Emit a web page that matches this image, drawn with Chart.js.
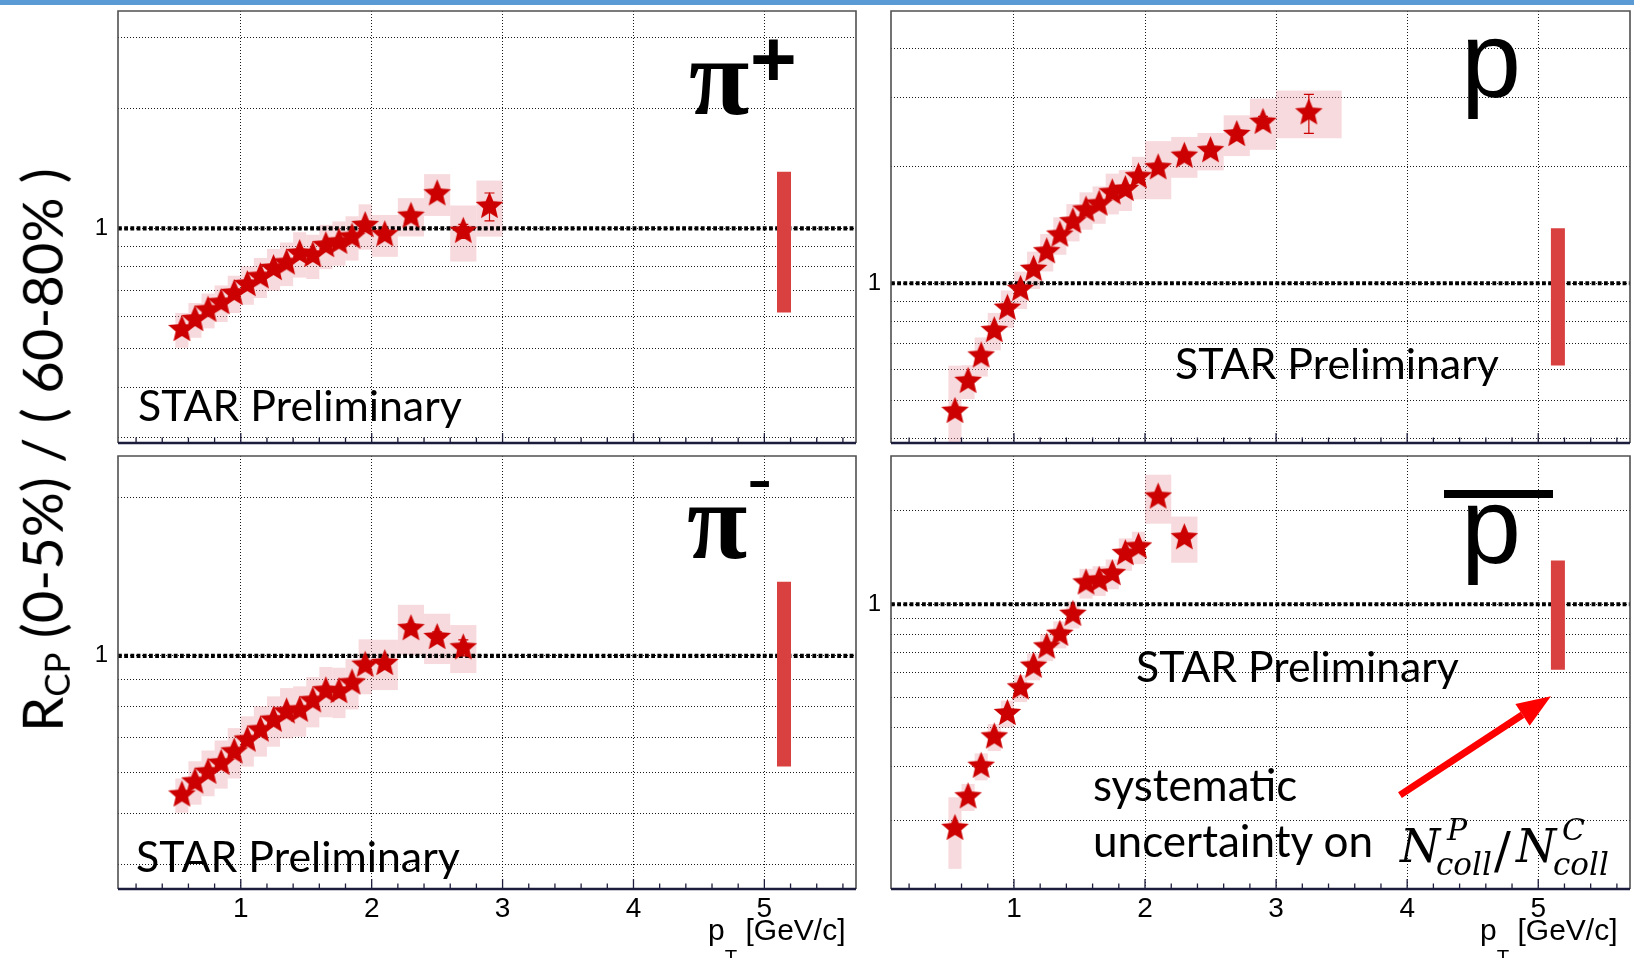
<!DOCTYPE html>
<html>
<head>
<meta charset="utf-8">
<title>RCP pions and protons</title>
<script src="https://cdn.jsdelivr.net/npm/chart.js@4.4.1/dist/chart.umd.min.js"></script>
<style>
  html, body { margin: 0; padding: 0; background: #fff; }
  body { width: 1634px; height: 958px; position: relative; overflow: hidden; }
  #topbar { position: absolute; left: 0; top: 0; width: 1634px; height: 5px; background: #5b9bd5; }
  canvas { position: absolute; }
  .t { position: absolute; white-space: nowrap; line-height: 1; color: #000; }
  .bar { position: absolute; background: #000; }
</style>
</head>
<body>
<div id="topbar"></div>
<canvas id="piPlus" width="800" height="452" style="left:60px;top:0px"></canvas>
<canvas id="proton" width="772" height="452" style="left:862px;top:0px"></canvas>
<canvas id="piMinus" width="800" height="506" style="left:60px;top:452px"></canvas>
<canvas id="pbar" width="772" height="506" style="left:862px;top:452px"></canvas>
<script>
// pT bin centres and half widths (GeV/c)
const ptBins = [0.55, 0.65, 0.75, 0.85, 0.95, 1.05, 1.15, 1.25, 1.35, 1.45, 1.55, 1.65, 1.75, 1.85, 1.95, 2.1, 2.3, 2.5, 2.7, 2.9, 3.25];
const ptHalf = [0.05, 0.05, 0.05, 0.05, 0.05, 0.05, 0.05, 0.05, 0.05, 0.05, 0.05, 0.05, 0.05, 0.05, 0.05, 0.1, 0.1, 0.1, 0.1, 0.1, 0.25];

// RCP (0-5%)/(60-80%), relative systematic (boxes) and statistical errors
const piPlusR    = [0.558, 0.591, 0.624, 0.651, 0.687, 0.723, 0.756, 0.793, 0.819, 0.865, 0.855, 0.905, 0.923, 0.951, 1.016, 0.964, 1.072, 1.22, 0.983, 1.135];
const piPlusSys  = [0.10, 0.10, 0.10, 0.105, 0.107, 0.11, 0.115, 0.12, 0.125, 0.13, 0.127, 0.127, 0.127, 0.127, 0.13, 0.12, 0.11, 0.12, 0.16, 0.16];
const piPlusStat = [0.01, 0.01, 0.01, 0.01, 0.01, 0.01, 0.01, 0.01, 0.01, 0.01, 0.012, 0.012, 0.014, 0.015, 0.017, 0.015, 0.02, 0.025, 0.04, 0.08];

const protonR    = [0.469, 0.560, 0.651, 0.756, 0.863, 0.965, 1.086, 1.205, 1.33, 1.439, 1.542, 1.597, 1.707, 1.742, 1.877, 1.98, 2.12, 2.19, 2.41, 2.59, 2.74];
const protonSys  = [0.31, 0.10, 0.115, 0.11, 0.11, 0.11, 0.11, 0.11, 0.11, 0.11, 0.11, 0.11, 0.12, 0.12, 0.125, 0.17, 0.12, 0.11, 0.12, 0.15, 0.14];
const protonStat = [0.01, 0.01, 0.01, 0.01, 0.01, 0.01, 0.01, 0.01, 0.01, 0.01, 0.012, 0.012, 0.013, 0.014, 0.015, 0.015, 0.018, 0.02, 0.025, 0.035, 0.115];

const piMinusR    = [0.543, 0.575, 0.600, 0.624, 0.656, 0.691, 0.722, 0.754, 0.782, 0.788, 0.821, 0.858, 0.855, 0.888, 0.960, 0.967, 1.127, 1.084, 1.036];
const piMinusSys  = [0.075, 0.095, 0.10, 0.105, 0.11, 0.11, 0.11, 0.11, 0.11, 0.11, 0.11, 0.11, 0.11, 0.11, 0.12, 0.11, 0.11, 0.11, 0.105];
const piMinusStat = [0.01, 0.01, 0.01, 0.01, 0.01, 0.01, 0.01, 0.01, 0.01, 0.01, 0.012, 0.012, 0.013, 0.014, 0.015, 0.015, 0.02, 0.025, 0.035];

const pbarR    = [0.189, 0.239, 0.300, 0.373, 0.444, 0.537, 0.631, 0.728, 0.800, 0.928, 1.172, 1.195, 1.256, 1.457, 1.531, 2.22, 1.64];
const pbarSys  = [0.26, 0.10, 0.10, 0.10, 0.10, 0.10, 0.10, 0.10, 0.10, 0.10, 0.11, 0.11, 0.11, 0.12, 0.12, 0.18, 0.17];
const pbarStat = [0.01, 0.01, 0.01, 0.01, 0.01, 0.01, 0.01, 0.01, 0.01, 0.01, 0.012, 0.012, 0.013, 0.014, 0.015, 0.02, 0.03];

// Ncoll systematic band, drawn at the right of each panel
const sysBandX = 5.15;
const sysBandLow = 0.615;
const sysBandHigh = 1.385;

// arrow pointing at the band (pT, RCP) in the pbar panel
const arrowFrom = [3.945, 0.242];
const arrowTo = [5.097, 0.505];

// axes
const X_MIN = 0.062, X_MAX = 5.70;
const xMajorTicks = [1, 2, 3, 4, 5];
const yGridPiPlus  = [0.3, 0.4, 0.5, 0.6, 0.7, 0.8, 0.9, 1, 2, 3];
const yGridProton  = [0.4, 0.5, 0.6, 0.7, 0.8, 0.9, 1, 2, 3, 4];
const yGridPiMinus = [0.4, 0.5, 0.6, 0.7, 0.8, 0.9, 1, 2];
const yGridPbar    = [0.2, 0.3, 0.4, 0.5, 0.6, 0.7, 0.8, 0.9, 1, 2];

const STAR_RED = 'rgb(204,0,0)';
const BOX_FILL = 'rgba(232,150,158,0.35)';
const GRID = 'rgba(0,0,0,0.9)';

// filled five-point star used as point style
function starImage(r, color) {
  const c = document.createElement('canvas');
  const s = Math.ceil(r * 2) + 2;
  c.width = s; c.height = s;
  const g = c.getContext('2d');
  g.translate(s / 2, s / 2);
  g.beginPath();
  for (let i = 0; i < 10; i++) {
    const rad = i % 2 ? r * 0.45 : r;
    const a = -Math.PI / 2 + i * Math.PI / 5;
    g.lineTo(rad * Math.cos(a), rad * Math.sin(a));
  }
  g.closePath();
  g.fillStyle = color;
  g.fill();
  return c;
}
const star = starImage(14.5, STAR_RED);

// boxes, error bars, frame and inward ticks
const rcpPanel = {
  id: 'rcpPanel',
  beforeDatasetsDraw(chart, args, o) {
    const { ctx, chartArea: a, scales: { x, y } } = chart;
    ctx.save();
    ctx.beginPath();
    ctx.rect(a.left, a.top, a.width, a.height);
    ctx.clip();
    ctx.fillStyle = BOX_FILL;
    o.vals.forEach((v, i) => {
      const x0 = x.getPixelForValue(ptBins[i] - ptHalf[i]);
      const x1 = x.getPixelForValue(ptBins[i] + ptHalf[i]);
      const y0 = y.getPixelForValue(v * (1 + o.sys[i]));
      const y1 = y.getPixelForValue(v * (1 - o.sys[i]));
      ctx.fillRect(x0, y0, x1 - x0, y1 - y0);
    });
    ctx.restore();
  },
  afterDatasetsDraw(chart, args, o) {
    const { ctx, scales: { x, y } } = chart;
    ctx.save();
    ctx.strokeStyle = STAR_RED;
    ctx.lineWidth = 1.2;
    o.vals.forEach((v, i) => {
      const px = x.getPixelForValue(ptBins[i]);
      const yHi = y.getPixelForValue(v * (1 + o.stat[i]));
      const yLo = y.getPixelForValue(v * (1 - o.stat[i]));
      ctx.beginPath();
      ctx.moveTo(px, yHi); ctx.lineTo(px, yLo);
      ctx.moveTo(px - 5, yHi); ctx.lineTo(px + 5, yHi);
      ctx.moveTo(px - 5, yLo); ctx.lineTo(px + 5, yLo);
      ctx.stroke();
    });
    if (o.arrow) {
      const x0 = x.getPixelForValue(arrowFrom[0]), y0 = y.getPixelForValue(arrowFrom[1]);
      const x1 = x.getPixelForValue(arrowTo[0]), y1 = y.getPixelForValue(arrowTo[1]);
      const ang = Math.atan2(y1 - y0, x1 - x0);
      const headLen = 34, headHalf = 13;
      const bx = x1 - headLen * Math.cos(ang), by = y1 - headLen * Math.sin(ang);
      ctx.strokeStyle = '#ff0000';
      ctx.fillStyle = '#ff0000';
      ctx.lineWidth = 7;
      ctx.beginPath();
      ctx.moveTo(x0, y0); ctx.lineTo(bx, by);
      ctx.stroke();
      ctx.beginPath();
      ctx.moveTo(x1, y1);
      ctx.lineTo(bx + headHalf * Math.sin(ang), by - headHalf * Math.cos(ang));
      ctx.lineTo(bx - headHalf * Math.sin(ang), by + headHalf * Math.cos(ang));
      ctx.closePath();
      ctx.fill();
    }
    ctx.restore();
  },
  afterDraw(chart) {
    const { ctx, chartArea: a, scales: { x } } = chart;
    ctx.save();
    ctx.strokeStyle = '#505050';
    ctx.lineWidth = 1.6;
    ctx.beginPath();
    ctx.moveTo(a.left, a.bottom); ctx.lineTo(a.left, a.top);
    ctx.lineTo(a.right, a.top); ctx.lineTo(a.right, a.bottom);
    ctx.stroke();
    ctx.strokeStyle = '#1c1c3c';
    ctx.lineWidth = 2.6;
    ctx.beginPath();
    ctx.moveTo(a.left, a.bottom); ctx.lineTo(a.right, a.bottom);
    ctx.stroke();
    ctx.lineWidth = 1.3;
    for (let k = 1; k * 0.2 < X_MAX; k++) {
      const px = x.getPixelForValue(k * 0.2);
      if (px <= a.left + 1) continue;
      const len = k % 5 === 0 ? 10 : 5.5;
      ctx.beginPath();
      ctx.moveTo(px, a.bottom); ctx.lineTo(px, a.bottom - len);
      ctx.stroke();
    }
    ctx.restore();
  }
};

function makePanel(id, cfg) {
  const pts = cfg.vals.map((v, i) => ({ x: ptBins[i], y: v }));
  return new Chart(document.getElementById(id), {
    type: 'scatter',
    data: {
      datasets: [
        { data: pts, pointStyle: star, pointRadius: 13, showLine: false, order: 0 },
        { data: [{ x: sysBandX, y: sysBandLow }, { x: sysBandX, y: sysBandHigh }],
          showLine: true, borderColor: '#d94141', borderWidth: 14, borderCapStyle: 'butt', pointRadius: 0, order: 1 },
        { data: [{ x: X_MIN, y: 1 }, { x: X_MAX, y: 1 }],
          showLine: true, borderColor: '#000', borderWidth: 4.2, borderDash: [3.8, 2.4], pointRadius: 0, order: 2 }
      ]
    },
    options: {
      responsive: false,
      animation: false,
      events: [],
      layout: { autoPadding: false, padding: { top: cfg.padTop, right: 4, left: 0, bottom: 0 } },
      plugins: {
        legend: { display: false },
        tooltip: { enabled: false },
        rcpPanel: { vals: cfg.vals, sys: cfg.sys, stat: cfg.stat, arrow: cfg.arrow }
      },
      scales: {
        x: {
          type: 'linear', min: X_MIN, max: X_MAX,
          afterBuildTicks: s => { s.ticks = xMajorTicks.map(v => ({ value: v })); },
          afterFit: s => { s.height = cfg.xHeight; s.paddingLeft = 0; s.paddingRight = 0; },
          grid: { color: GRID, lineWidth: 1, drawTicks: false },
          border: { display: false, dash: [1, 2] },
          ticks: { display: cfg.xLabels, autoSkip: false, maxRotation: 0, padding: 3, color: '#000',
                   font: { family: 'Liberation Sans', size: 28 } }
        },
        y: {
          type: 'logarithmic', min: cfg.yMin, max: cfg.yMax,
          afterBuildTicks: s => { s.ticks = cfg.yGrid.map(v => ({ value: v })); },
          afterFit: s => { s.width = cfg.yWidth; s.paddingTop = 0; s.paddingBottom = 0; },
          grid: { color: GRID, lineWidth: 1, drawTicks: false },
          border: { display: false, dash: [1, 2] },
          ticks: { autoSkip: false, padding: 10, color: '#000',
                   font: { family: 'Liberation Sans', size: 24 },
                   callback: v => (v === 1 ? '1' : '') }
        }
      }
    },
    plugins: [rcpPanel]
  });
}

makePanel('piPlus',  { vals: piPlusR,  sys: piPlusSys,  stat: piPlusStat,  yMin: 0.29,   yMax: 3.5,  yGrid: yGridPiPlus,  padTop: 11, xHeight: 9,  xLabels: false, yWidth: 58 });
makePanel('proton',  { vals: protonR,  sys: protonSys,  stat: protonStat,  yMin: 0.389,  yMax: 5.0,  yGrid: yGridProton,  padTop: 11, xHeight: 9,  xLabels: false, yWidth: 29 });
makePanel('piMinus', { vals: piMinusR, sys: piMinusSys, stat: piMinusStat, yMin: 0.3594, yMax: 2.404, yGrid: yGridPiMinus, padTop: 4,  xHeight: 69, xLabels: true,  yWidth: 58 });
makePanel('pbar',    { vals: pbarR,    sys: pbarSys,    stat: pbarStat,    yMin: 0.1204, yMax: 3.01, yGrid: yGridPbar,    padTop: 4,  xHeight: 69, xLabels: true,  yWidth: 29, arrow: true });

// ---- text overlays ----
const BASE = { 'Lato': 0.887, 'Liberation Sans': 0.8465, 'Liberation Serif': 0.8375, 'DejaVu Serif': 0.846 };

function addText(html, left, baseline, size, family, style) {
  const el = document.createElement('div');
  el.className = 't';
  el.innerHTML = html;
  el.style.fontFamily = "'" + family + "'";
  el.style.fontSize = size + 'px';
  if (style) Object.assign(el.style, style);
  document.body.appendChild(el);
  el.style.left = left + 'px';
  el.style.top = (baseline - BASE[family] * size) + 'px';
  return el;
}

// text scaled so that its width matches the reference
function fitText(html, left, baseline, width, family) {
  const el = addText(html, left, baseline, 100, family);
  const size = 100 * width / el.offsetWidth;
  el.style.fontSize = size + 'px';
  el.style.top = (baseline - BASE[family] * size) + 'px';
  return el;
}

fitText('STAR Preliminary', 138, 422, 324, 'Lato');
fitText('STAR Preliminary', 1175, 380, 324, 'Lato');
fitText('STAR Preliminary', 136, 873, 324, 'Lato');
fitText('STAR Preliminary', 1136, 683, 323, 'Lato');
fitText('systematic', 1093, 802, 204, 'Lato');
fitText('uncertainty on', 1093, 857, 280, 'Lato');

// N_coll^P / N_coll^C
const it = { fontStyle: 'italic' };
addText('N', 1400, 862, 46, 'DejaVu Serif', it);
addText('P', 1447, 840, 30, 'DejaVu Serif', it);
addText('coll', 1436, 875, 31, 'DejaVu Serif', it);
addText('/', 1494, 868, 50, 'DejaVu Serif');
addText('N', 1516, 862, 46, 'DejaVu Serif', it);
addText('C', 1562, 840, 30, 'DejaVu Serif', it);
addText('coll', 1553, 875, 31, 'DejaVu Serif', it);

// particle labels
const bold = { fontWeight: 'bold' };
addText('π', 689, 114, 110, 'Liberation Serif', bold);
addText('+', 750, 87, 80, 'Liberation Sans', bold);
addText('π', 687, 558, 110, 'Liberation Serif', bold);
addText('-', 747, 504, 76, 'Liberation Sans');
addText('p', 1461, 97, 108, 'Liberation Sans');
addText('p', 1461, 563, 108, 'Liberation Sans');
const over = document.createElement('div');
over.className = 'bar';
Object.assign(over.style, { left: '1444px', top: '490px', width: '109px', height: '8px' });
document.body.appendChild(over);

// x axis titles, right aligned near the frame edge
function xTitle(right) {
  const el = addText('p<span style="font-size:0.68em;position:relative;top:24px">T</span> [GeV/c]', 0, 940, 30, 'Liberation Sans');
  el.style.left = (right - el.offsetWidth) + 'px';
}
xTitle(846);
xTitle(1618);

// rotated y axis title
(function () {
  const el = fitText('R<span style="font-size:0.62em;position:relative;top:0.2em">CP</span> (0-5%) / ( 60-80% )', 0, 0, 564, 'Lato');
  const fs = parseFloat(el.style.fontSize);
  const w = el.offsetWidth;
  const baselineX = 64, cy = 450;
  const cx = baselineX + fs / 2 - BASE['Lato'] * fs;
  el.style.left = (cx - w / 2) + 'px';
  el.style.top = (cy - fs / 2) + 'px';
  el.style.transformOrigin = 'center center';
  el.style.transform = 'rotate(-90deg)';
})();
</script>
</body>
</html>
